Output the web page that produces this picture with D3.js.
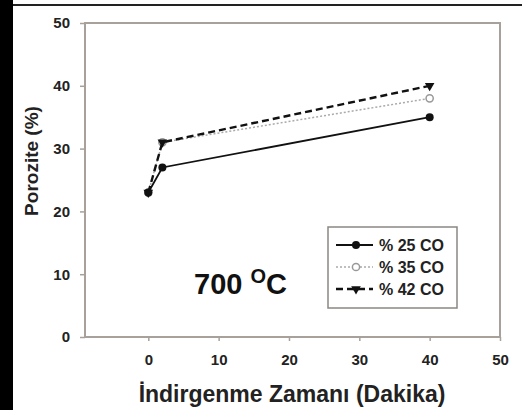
<!DOCTYPE html>
<html>
<head>
<meta charset="utf-8">
<script src="https://cdn.jsdelivr.net/npm/d3@7"></script>
<style>
  body { margin: 0; background: #fff; }
  svg { display: block; font-family: "Liberation Sans", Arial, sans-serif; }
</style>
</head>
<body>
<div id="chart"></div>
<script>
// data
var times = [0, 2, 40];
var co25 = [23, 27, 35];
var co35 = [23, 31, 38];
var co42 = [23, 31, 40];
var seriesNames = ["% 25 CO", "% 35 CO", "% 42 CO"];
var xTicks = [0, 10, 20, 30, 40, 50];
var yTicks = [0, 10, 20, 30, 40, 50];

var width = 522, height = 410;
var frameColor = "#a8a09a";

var svg = d3.select("#chart").append("svg")
    .attr("width", width)
    .attr("height", height);

svg.append("rect").attr("width", width).attr("height", height).attr("fill", "#fff");

// scanned-page borders
svg.append("rect").attr("x", 0).attr("y", 0).attr("width", 13).attr("height", height).attr("fill", "#000");
svg.append("rect").attr("x", 13).attr("y", 4).attr("width", width - 13).attr("height", 2).attr("fill", "#222");

var x = d3.scaleLinear().domain([-9, 50]).range([85, 500]),
    y = d3.scaleLinear().domain([0, 50]).range([337, 23]);

// plot frame
svg.append("rect")
    .attr("x", x(-9)).attr("y", y(50))
    .attr("width", x(50) - x(-9)).attr("height", y(0) - y(50))
    .attr("fill", "none")
    .attr("stroke", frameColor)
    .attr("stroke-width", 2);

var xAxis = svg.append("g")
    .attr("transform", "translate(0," + y(0) + ")")
    .call(d3.axisBottom(x).tickValues(xTicks).tickSize(4).tickPadding(13));

var yAxis = svg.append("g")
    .attr("transform", "translate(" + x(-9) + ",0)")
    .call(d3.axisLeft(y).tickValues(yTicks).tickSize(5).tickPadding(10));

[xAxis, yAxis].forEach(function (a) {
    a.select(".domain").remove();
    a.selectAll("line").attr("stroke", frameColor).attr("stroke-width", 1.5);
    a.selectAll("text")
        .attr("fill", "#222")
        .style("font-size", "15px")
        .style("font-weight", "bold")
        .style("font-family", "'Liberation Sans', Arial, sans-serif");
});

// axis titles
svg.append("text")
    .attr("x", 292).attr("y", 402)
    .attr("text-anchor", "middle")
    .style("font-size", "23px")
    .style("font-weight", "bold")
    .attr("fill", "#222")
    .text("İndirgenme Zamanı (Dakika)");

svg.append("text")
    .attr("transform", "translate(38,161) rotate(-90)")
    .attr("text-anchor", "middle")
    .style("font-size", "19px")
    .style("font-weight", "bold")
    .attr("fill", "#222")
    .text("Porozite (%)");

// series
var series = [
    { name: seriesNames[0], values: co25, dash: null, color: "#111", width: 1.8, marker: "dot" },
    { name: seriesNames[1], values: co35, dash: "2,2", color: "#aaa", width: 1.5, marker: "open" },
    { name: seriesNames[2], values: co42, dash: "7,4", color: "#111", width: 2.4, marker: "tri" }
];

var line = d3.line()
    .x(function (d) { return x(d[0]); })
    .y(function (d) { return y(d[1]); });

function drawMarker(g, mk, cx, cy) {
    if (mk === "dot") {
        g.append("circle").attr("cx", cx).attr("cy", cy).attr("r", 4).attr("fill", "#111");
    } else if (mk === "open") {
        g.append("circle").attr("cx", cx).attr("cy", cy).attr("r", 3.6)
            .attr("fill", "#fff").attr("stroke", "#999").attr("stroke-width", 1.5);
    } else {
        g.append("path")
            .attr("d", d3.symbol().type(d3.symbolTriangle).size(40)())
            .attr("transform", "translate(" + cx + "," + cy + ") rotate(180)")
            .attr("fill", "#111");
    }
}

var order = [1, 2, 0];
order.forEach(function (i) {
    var s = series[i];
    var pts = times.map(function (t, j) { return [t, s.values[j]]; });
    var g = svg.append("g");
    g.append("path")
        .datum(pts)
        .attr("d", line)
        .attr("fill", "none")
        .attr("stroke", s.color)
        .attr("stroke-width", s.width)
        .attr("stroke-dasharray", s.dash);
    pts.forEach(function (p) { drawMarker(g, s.marker, x(p[0]), y(p[1])); });
});

// temperature label
var t = svg.append("text")
    .attr("x", 194).attr("y", 294)
    .style("font-size", "29px")
    .style("font-weight", "bold")
    .attr("fill", "#111");
t.append("tspan").text("700 ");
t.append("tspan").attr("dy", -11).style("font-size", "20px").text("O");
t.append("tspan").attr("dy", 11).text("C");

// legend
var legend = svg.append("g");
legend.append("rect")
    .attr("x", 328).attr("y", 227)
    .attr("width", 129).attr("height", 81)
    .attr("fill", "#fff")
    .attr("stroke", "#8c8682")
    .attr("stroke-width", 1.5);

series.forEach(function (s, i) {
    var ly = 245 + i * 22;
    legend.append("line")
        .attr("x1", 336).attr("x2", 373)
        .attr("y1", ly).attr("y2", ly)
        .attr("stroke", s.color)
        .attr("stroke-width", s.width)
        .attr("stroke-dasharray", s.dash);
    drawMarker(legend, s.marker, 356, ly);
    legend.append("text")
        .attr("x", 379).attr("y", ly + 6)
        .style("font-size", "16px")
        .style("font-weight", "bold")
        .attr("fill", "#222")
        .text(s.name);
});
</script>
</body>
</html>
